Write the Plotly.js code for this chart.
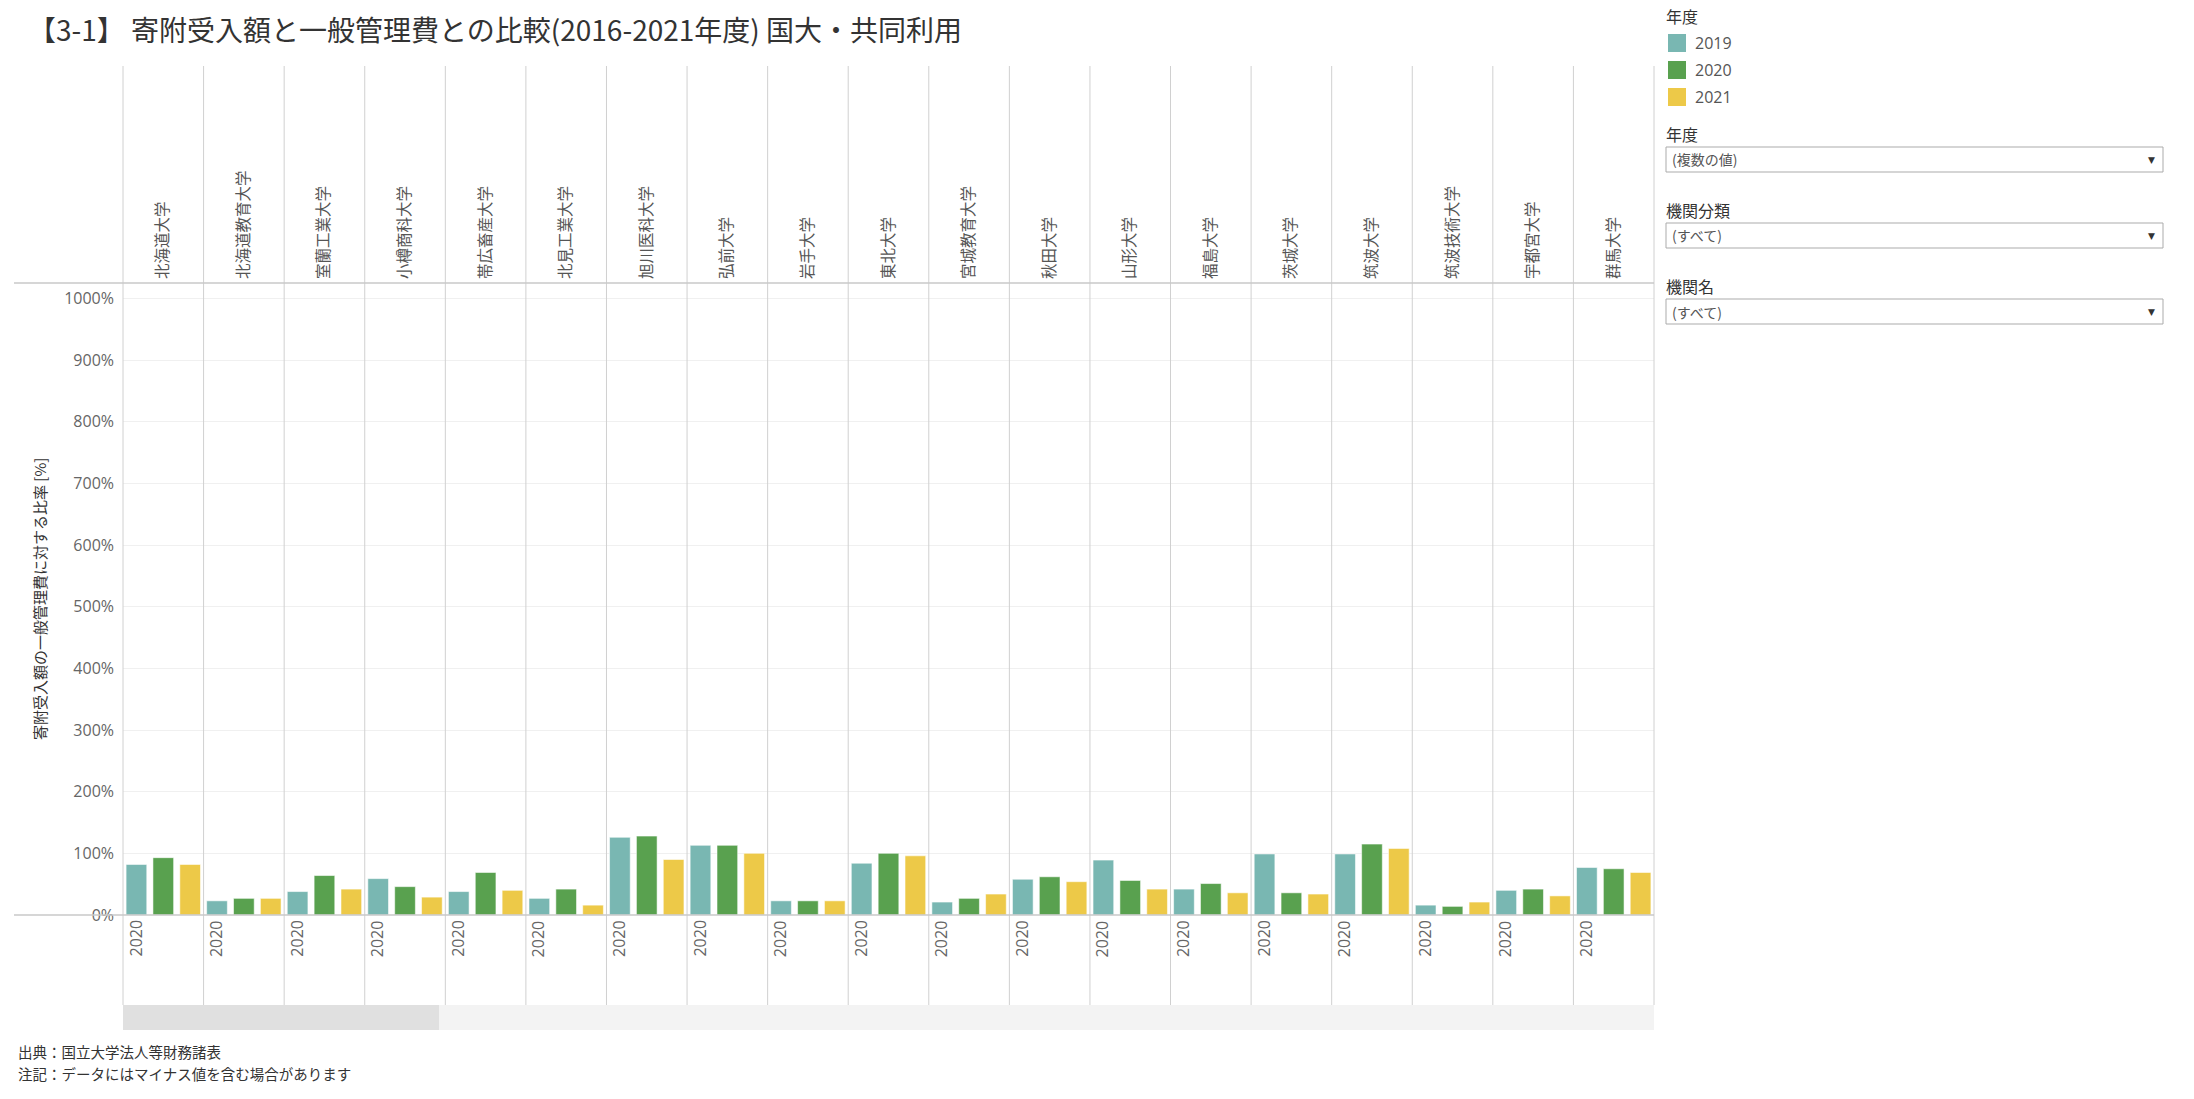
<!DOCTYPE html>
<html><head><meta charset="utf-8">
<script src="https://cdn.plot.ly/plotly-3.0.1.min.js"></script>
<style>html,body{margin:0;padding:0;background:#fff;}#chart{width:2194px;height:1099px;}</style>
</head><body><div id="chart"></div>
<script>
// ---- data ----
const universities = ['北海道大学','北海道教育大学','室蘭工業大学','小樽商科大学','帯広畜産大学','北見工業大学','旭川医科大学','弘前大学','岩手大学','東北大学','宮城教育大学','秋田大学','山形大学','福島大学','茨城大学','筑波大学','筑波技術大学','宇都宮大学','群馬大学'];
const years = ['2019','2020','2021'];
const ratio2019 = [82,23,38,59,38,27,126,113,23,84,21,58,89,42,99,99,16,40,77];
const ratio2020 = [93,27,64,46,69,42,128,113,23,100,27,62,56,51,36,115,14,42,75];
const ratio2021 = [82,27,42,29,40,16,90,100,23,96,34,54,42,36,34,108,21,31,69];
const yearColors = ['#79b7b2','#59a14f','#edc948'];
const columnYearLabel = '2020';
const yTickValues = [0,100,200,300,400,500,600,700,800,900,1000];
const titleText = '【3-1】 寄附受入額と一般管理費との比較(2016-2021年度) 国大・共同利用';
const yTitleText = '寄附受入額の一般管理費に対する比率 [%]';
const footnotes = ['出典：国立大学法人等財務諸表','注記：データにはマイナス値を含む場合があります'];
const legendTitle = '年度';
const filterLabels = ['年度','機関分類','機関名'];
const filterValues = ['(複数の値)','(すべて)','(すべて)'];

// ---- layout geometry (pixels) ----
const W = 2194, H = 1099;
const L = 123, R = 1654, T = 283, B = 915;
const CJK = '"Noto Sans CJK JP", "Noto Sans", sans-serif';
const LAT = '"Open Sans", "Noto Sans", sans-serif';
const px2x = p => (p - L) / (R - L);
const px2y = p => (B - p) / (B - T);
const nCol = universities.length;
const colW = (R - L) / nCol;

const series = [ratio2019, ratio2020, ratio2021];
const traces = years.map((yr, j) => ({
  type: 'bar', name: yr, x: universities, y: series[j],
  marker: {color: yearColors[j], line: {color: 'rgba(255,255,255,0.55)', width: 1}},
  showlegend: false,
  hovertemplate: '%{x}<br>' + yr + ': %{y}%<extra></extra>'
}));

const lineCol = '#d0d0d0';
const shapes = [];
// column dividers (header through footer band)
for (let k = 0; k <= nCol; k++) {
  shapes.push({type:'line', xref:'paper', yref:'paper', x0:k/nCol, x1:k/nCol,
    y0:px2y(1005), y1:px2y(66), line:{color:lineCol, width:1}, layer:'above'});
}
// header bottom and baseline
[T, B].forEach(py => shapes.push({type:'line', xref:'paper', yref:'paper',
  x0:px2x(14), x1:1, y0:px2y(py), y1:px2y(py), line:{color:'#c8c8c8', width:1.5}, layer:'above'}));
// scroll bar
shapes.push({type:'rect', xref:'paper', yref:'paper', x0:0, x1:1, y0:px2y(1030), y1:px2y(1005),
  fillcolor:'#f3f3f3', line:{width:0}, layer:'above'});
shapes.push({type:'rect', xref:'paper', yref:'paper', x0:0, x1:px2x(439), y0:px2y(1030), y1:px2y(1005),
  fillcolor:'#e0e0e0', line:{width:0}, layer:'above'});

const annotations = [];
// year label in every column
for (let i = 0; i < nCol; i++) {
  annotations.push({xref:'paper', yref:'paper', x:(i + 12/colW)/nCol, y:px2y(918),
    text:columnYearLabel, textangle:-90, showarrow:false, xanchor:'center', yanchor:'top',
    font:{family:LAT, size:16, color:'#666'}});
}
// y-axis title
annotations.push({xref:'paper', yref:'paper', x:px2x(39), y:px2y(599), text:yTitleText,
  textangle:-90, showarrow:false, xanchor:'center', yanchor:'middle',
  font:{family:CJK, size:15, color:'#333'}});
// footnotes
footnotes.forEach((t, i) => annotations.push({xref:'paper', yref:'paper', x:px2x(16),
  y:px2y(1051 + i*22), text:t, showarrow:false, xanchor:'left', yanchor:'middle',
  font:{family:CJK, size:14.5, color:'#333'}}));
// legend (manual)
annotations.push({xref:'paper', yref:'paper', x:px2x(1664), y:px2y(16), text:legendTitle,
  showarrow:false, xanchor:'left', yanchor:'middle', font:{family:CJK, size:16, color:'#333'}});
years.forEach((yr, j) => {
  const cy = 43 + j*27;
  shapes.push({type:'rect', xref:'paper', yref:'paper', x0:px2x(1668), x1:px2x(1686),
    y0:px2y(cy+9), y1:px2y(cy-9), fillcolor:yearColors[j], line:{width:0}});
  annotations.push({xref:'paper', yref:'paper', x:px2x(1693), y:px2y(cy), text:yr,
    showarrow:false, xanchor:'left', yanchor:'middle', font:{family:LAT, size:16, color:'#555'}});
});
// filter boxes
const boxTops = [147, 223, 299];
filterLabels.forEach((lab, i) => {
  const t = boxTops[i];
  annotations.push({xref:'paper', yref:'paper', x:px2x(1664), y:px2y(t-13), text:lab,
    showarrow:false, xanchor:'left', yanchor:'middle', font:{family:CJK, size:16, color:'#333'}});
  shapes.push({type:'rect', xref:'paper', yref:'paper', x0:px2x(1666), x1:px2x(2163),
    y0:px2y(t+25), y1:px2y(t), fillcolor:'#fff', line:{color:'#ababab', width:1}});
  annotations.push({xref:'paper', yref:'paper', x:px2x(1670), y:px2y(t+12.5), text:filterValues[i],
    showarrow:false, xanchor:'left', yanchor:'middle', font:{family:CJK, size:14, color:'#555'}});
  annotations.push({xref:'paper', yref:'paper', x:px2x(2151), y:px2y(t+13), text:'▼',
    showarrow:false, xanchor:'center', yanchor:'middle', font:{family:'DejaVu Sans', size:9, color:'#333'}});
});

const layout = {
  width: W, height: H,
  margin: {l:L, r:W-R, t:T, b:H-B, pad:0},
  paper_bgcolor: '#fff', plot_bgcolor: '#fff',
  barmode: 'group', bargap: 0, bargroupgap: 0.23,
  showlegend: false,
  title: {text: titleText, x: 28/W, xref:'container', xanchor:'left',
          y: 1 - 31/H, yref:'container', yanchor:'middle',
          font:{family:CJK, size:28, color:'#333'}},
  xaxis: {type:'category', side:'top', tickangle:-90, range:[-0.5, nCol-0.5],
          tickfont:{family:CJK, size:15.5, color:'#555'}, ticks:'', showgrid:false,
          zeroline:false, showline:false, automargin:false, ticklabelstandoff:3},
  yaxis: {range:[0, 1025], tickvals:yTickValues, ticktext:yTickValues.map(v => v + '%'),
          showgrid:true, gridcolor:'#f0f0f0', gridwidth:1, zeroline:false, showline:false,
          ticks:'', tickfont:{family:LAT, size:16, color:'#666'}, automargin:false,
          ticklabelstandoff:8},
  shapes: shapes, annotations: annotations
};
Plotly.newPlot('chart', traces, layout, {displayModeBar:false});
</script></body></html>
